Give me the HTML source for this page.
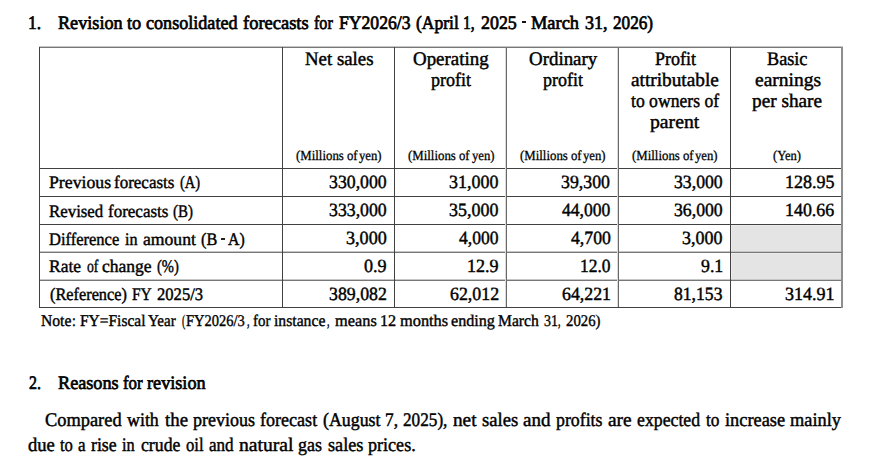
<!DOCTYPE html>
<html><head><meta charset='utf-8'><title>Revision to consolidated forecasts</title><style>
html,body{margin:0;padding:0;background:#fff;}
body{width:879px;height:468px;position:relative;overflow:hidden;font-family:"Liberation Serif",serif;color:#000;}
.t{position:absolute;white-space:pre;line-height:1;transform-origin:0 0;text-rendering:geometricPrecision;}
.ln{position:absolute;background:#484848;}
.g{position:absolute;background:#e4e4e4;}
.T{font-size:19.0px;-webkit-text-stroke:0.7px #000;}
.H{font-size:19.3px;-webkit-text-stroke:0.45px #000;}
.B{font-size:19.2px;-webkit-text-stroke:0.45px #000;}
.L{font-size:17.7px;-webkit-text-stroke:0.42px #000;}
.D{font-size:18.7px;-webkit-text-stroke:0.45px #000;}
.S{font-size:13.9px;-webkit-text-stroke:0.3px #000;}
.N{font-size:16.4px;-webkit-text-stroke:0.38px #000;}
</style></head>
<body>
<div class='ln' style='left:731px;top:225px;width:110px;height:26px;background:#ececec'></div>
<div class='ln' style='left:732px;top:226px;width:109px;height:25px;background:#e4e4e4'></div>
<div class='ln' style='left:731px;top:253px;width:110px;height:26px;background:#ececec'></div>
<div class='ln' style='left:732px;top:254px;width:109px;height:25px;background:#e4e4e4'></div>
<div class='ln' style='left:39px;top:168px;width:804px;height:1px;background:#414141'></div>
<div class='ln' style='left:39px;top:196px;width:804px;height:1px;background:#414141'></div>
<div class='ln' style='left:39px;top:224px;width:804px;height:1px;background:#414141'></div>
<div class='ln' style='left:39px;top:307px;width:804px;height:1px;background:#414141'></div>
<div class='ln' style='left:39px;top:46px;width:804px;height:1px;background:#c6c6c6'></div>
<div class='ln' style='left:39px;top:47px;width:804px;height:1px;background:#777777'></div>
<div class='ln' style='left:39px;top:251px;width:804px;height:1px;background:#c6c6c6'></div>
<div class='ln' style='left:39px;top:252px;width:804px;height:1px;background:#777777'></div>
<div class='ln' style='left:39px;top:279px;width:804px;height:1px;background:#c6c6c6'></div>
<div class='ln' style='left:39px;top:280px;width:804px;height:1px;background:#777777'></div>
<div class='ln' style='left:39px;top:47px;width:1px;height:261px;background:#414141'></div>
<div class='ln' style='left:282px;top:47px;width:1px;height:261px;background:#414141'></div>
<div class='ln' style='left:394px;top:47px;width:1px;height:261px;background:#414141'></div>
<div class='ln' style='left:730px;top:47px;width:1px;height:261px;background:#414141'></div>
<div class='ln' style='left:505px;top:48px;width:1px;height:259px;background:#dcdcdc'></div>
<div class='ln' style='left:506px;top:48px;width:1px;height:259px;background:#666666'></div>
<div class='ln' style='left:617px;top:48px;width:1px;height:259px;background:#dcdcdc'></div>
<div class='ln' style='left:618px;top:48px;width:1px;height:259px;background:#666666'></div>
<div class='ln' style='left:841px;top:47px;width:2px;height:261px;background:#8e8e8e'></div>
<div class='ln' style='left:521.7px;top:21px;width:4.4px;height:2px;background:#111'></div>
<div class='ln' style='left:221px;top:238px;width:3.6px;height:1.5px;background:#222'></div>
<span class='t T' style='left:28.33px;top:14px;transform:scaleX(0.9217)'>1.</span>
<span class='t T' style='left:57.84px;top:14px;transform:scaleX(0.9563)'>Revision</span>
<span class='t T' style='left:126.53px;top:14px;transform:scaleX(0.9638)'>to</span>
<span class='t T' style='left:145.61px;top:14px;transform:scaleX(0.9531)'>consolidated</span>
<span class='t T' style='left:242.53px;top:14px;transform:scaleX(0.9721)'>forecasts</span>
<span class='t T' style='left:313.79px;top:14px;transform:scaleX(0.8478)'>for</span>
<span class='t T' style='left:339.29px;top:14px;transform:scaleX(0.9277)'>FY2026/3</span>
<span class='t T' style='left:416.01px;top:14px;transform:scaleX(0.9211)'>(April</span>
<span class='t T' style='left:462.81px;top:14px;transform:scaleX(0.8205)'>1,</span>
<span class='t T' style='left:480.51px;top:14px;transform:scaleX(0.9426)'>2025</span>
<span class='t T' style='left:530.54px;top:14px;transform:scaleX(0.9678)'>March</span>
<span class='t T' style='left:585.00px;top:14px;transform:scaleX(0.9494)'>31,</span>
<span class='t T' style='left:612.51px;top:14px;transform:scaleX(0.9038)'>2026)</span>
<span class='t H' style='left:305.01px;top:50px;transform:scaleX(0.9766)'>Net sales</span>
<span class='t H' style='left:413.40px;top:50px;transform:scaleX(0.9807)'>Operating</span>
<span class='t H' style='left:431.04px;top:71px;transform:scaleX(0.9350)'>profit</span>
<span class='t H' style='left:528.70px;top:50px;transform:scaleX(0.9802)'>Ordinary</span>
<span class='t H' style='left:543.24px;top:71px;transform:scaleX(0.9317)'>profit</span>
<span class='t H' style='left:654.51px;top:50px;transform:scaleX(0.9337)'>Profit</span>
<span class='t H' style='left:631.30px;top:71px;transform:scaleX(1.0006)'>attributable</span>
<span class='t H' style='left:631.41px;top:92px;transform:scaleX(0.9136)'>to owners of</span>
<span class='t H' style='left:649.94px;top:113px;transform:scaleX(1.0213)'>parent</span>
<span class='t H' style='left:767.01px;top:50px;transform:scaleX(0.9442)'>Basic</span>
<span class='t H' style='left:754.70px;top:71px;transform:scaleX(1.0108)'>earnings</span>
<span class='t H' style='left:752.04px;top:92px;transform:scaleX(0.9986)'>per share</span>
<span class='t S' style='left:295.71px;top:150px;transform:scaleX(0.9242)'>(Millions</span>
<span class='t S' style='left:346.91px;top:150px;transform:scaleX(0.9165)'>of</span>
<span class='t S' style='left:359.27px;top:150px;transform:scaleX(0.9154)'>yen)</span>
<span class='t S' style='left:408.01px;top:150px;transform:scaleX(0.9242)'>(Millions</span>
<span class='t S' style='left:459.21px;top:150px;transform:scaleX(0.9165)'>of</span>
<span class='t S' style='left:471.57px;top:150px;transform:scaleX(0.9154)'>yen)</span>
<span class='t S' style='left:519.71px;top:150px;transform:scaleX(0.9242)'>(Millions</span>
<span class='t S' style='left:570.91px;top:150px;transform:scaleX(0.9165)'>of</span>
<span class='t S' style='left:583.27px;top:150px;transform:scaleX(0.9154)'>yen)</span>
<span class='t S' style='left:631.81px;top:150px;transform:scaleX(0.9242)'>(Millions</span>
<span class='t S' style='left:683.01px;top:150px;transform:scaleX(0.9165)'>of</span>
<span class='t S' style='left:695.37px;top:150px;transform:scaleX(0.9154)'>yen)</span>
<span class='t S' style='left:773.31px;top:150px;transform:scaleX(0.9046)'>(Yen)</span>
<span class='t L' style='left:49.01px;top:174px;transform:scaleX(1.0034)'>Previous</span>
<span class='t L' style='left:114.01px;top:174px;transform:scaleX(0.9608)'>forecasts</span>
<span class='t L' style='left:179.50px;top:174px;transform:scaleX(0.8207)'>(A)</span>
<span class='t L' style='left:49.01px;top:203px;transform:scaleX(0.9523)'>Revised</span>
<span class='t L' style='left:107.76px;top:203px;transform:scaleX(0.9608)'>forecasts</span>
<span class='t L' style='left:173.25px;top:203px;transform:scaleX(0.8440)'>(B)</span>
<span class='t L' style='left:49.02px;top:231px;transform:scaleX(0.9330)'>Difference</span>
<span class='t L' style='left:125.29px;top:231px;transform:scaleX(0.9109)'>in</span>
<span class='t L' style='left:142.76px;top:231px;transform:scaleX(0.9968)'>amount</span>
<span class='t L' style='left:201.00px;top:231px;transform:scaleX(0.9169)'>(B</span>
<span class='t L' style='left:227.87px;top:231px;transform:scaleX(0.8932)'>A)</span>
<span class='t L' style='left:49.01px;top:258px;transform:scaleX(0.9874)'>Rate</span>
<span class='t L' style='left:86.51px;top:258px;transform:scaleX(0.7756)'>of</span>
<span class='t L' style='left:102.00px;top:258px;transform:scaleX(0.9914)'>change</span>
<span class='t L' style='left:156.50px;top:258px;transform:scaleX(0.8244)'>(%)</span>
<span class='t L' style='left:49.60px;top:286px;transform:scaleX(0.9218)'>(Reference)</span>
<span class='t L' style='left:132.02px;top:286px;transform:scaleX(0.8746)'>FY</span>
<span class='t L' style='left:157.00px;top:286px;transform:scaleX(0.9376)'>2025/3</span>
<span class='t D' style='left:328.78px;top:174px;transform:scaleX(0.9502)'>330,000</span>
<span class='t D' style='left:328.78px;top:202px;transform:scaleX(0.9502)'>333,000</span>
<span class='t D' style='left:345.98px;top:230px;transform:scaleX(0.9700)'>3,000</span>
<span class='t D' style='left:364.30px;top:258px;transform:scaleX(0.9683)'>0.9</span>
<span class='t D' style='left:328.78px;top:286px;transform:scaleX(0.9526)'>389,082</span>
<span class='t D' style='left:449.28px;top:174px;transform:scaleX(0.9612)'>31,000</span>
<span class='t D' style='left:449.28px;top:202px;transform:scaleX(0.9612)'>35,000</span>
<span class='t D' style='left:459.27px;top:230px;transform:scaleX(0.9381)'>4,000</span>
<span class='t D' style='left:467.21px;top:258px;transform:scaleX(0.9665)'>12.9</span>
<span class='t D' style='left:449.90px;top:286px;transform:scaleX(0.9562)'>62,012</span>
<span class='t D' style='left:561.38px;top:174px;transform:scaleX(0.9524)'>39,300</span>
<span class='t D' style='left:562.07px;top:202px;transform:scaleX(0.9402)'>44,000</span>
<span class='t D' style='left:570.77px;top:230px;transform:scaleX(0.9476)'>4,700</span>
<span class='t D' style='left:579.62px;top:258px;transform:scaleX(0.9334)'>12.0</span>
<span class='t D' style='left:562.00px;top:286px;transform:scaleX(0.9529)'>64,221</span>
<span class='t D' style='left:673.58px;top:174px;transform:scaleX(0.9476)'>33,000</span>
<span class='t D' style='left:673.58px;top:202px;transform:scaleX(0.9476)'>36,000</span>
<span class='t D' style='left:682.28px;top:230px;transform:scaleX(0.9608)'>3,000</span>
<span class='t D' style='left:700.92px;top:258px;transform:scaleX(0.9508)'>9.1</span>
<span class='t D' style='left:674.20px;top:286px;transform:scaleX(0.9428)'>81,153</span>
<span class='t D' style='left:784.81px;top:174px;transform:scaleX(0.9650)'>128.95</span>
<span class='t D' style='left:784.80px;top:202px;transform:scaleX(0.9576)'>140.66</span>
<span class='t D' style='left:785.18px;top:286px;transform:scaleX(0.9651)'>314.91</span>
<span class='t N' style='left:41.42px;top:313px;transform:scaleX(0.9539)'>Note</span>
<span class='t N' style='left:71.99px;top:313px;transform:scaleX(0.8334)'>:</span>
<span class='t N' style='left:80.02px;top:313px;transform:scaleX(0.9436)'>FY=Fiscal</span>
<span class='t N' style='left:148.09px;top:313px;transform:scaleX(0.9178)'>Year</span>
<span class='t N' style='left:181.51px;top:313px;transform:scaleX(0.5958)'>(</span>
<span class='t N' style='left:186.02px;top:313px;transform:scaleX(0.8843)'>FY2026/3</span>
<span class='t N' style='left:247.32px;top:313px;transform:scaleX(0.6264)'>,</span>
<span class='t N' style='left:253.01px;top:313px;transform:scaleX(0.9114)'>for</span>
<span class='t N' style='left:274.28px;top:313px;transform:scaleX(0.9568)'>instance</span>
<span class='t N' style='left:327.32px;top:313px;transform:scaleX(0.6264)'>,</span>
<span class='t N' style='left:334.54px;top:313px;transform:scaleX(0.9967)'>means</span>
<span class='t N' style='left:380.27px;top:313px;transform:scaleX(0.9885)'>12</span>
<span class='t N' style='left:400.04px;top:313px;transform:scaleX(0.9974)'>months</span>
<span class='t N' style='left:451.26px;top:313px;transform:scaleX(0.9840)'>ending</span>
<span class='t N' style='left:498.27px;top:313px;transform:scaleX(0.9527)'>March</span>
<span class='t N' style='left:543.75px;top:313px;transform:scaleX(0.8501)'>31</span>
<span class='t N' style='left:558.32px;top:313px;transform:scaleX(0.6264)'>,</span>
<span class='t N' style='left:566.25px;top:313px;transform:scaleX(0.9016)'>2026)</span>
<span class='t T' style='left:28.76px;top:374px;transform:scaleX(0.8400)'>2.</span>
<span class='t T' style='left:57.54px;top:374px;transform:scaleX(0.9574)'>Reasons</span>
<span class='t T' style='left:122.53px;top:374px;transform:scaleX(0.8874)'>for</span>
<span class='t T' style='left:146.84px;top:374px;transform:scaleX(0.9571)'>revision</span>
<span class='t B' style='left:44.80px;top:411px;transform:scaleX(0.9584)'>Compared</span>
<span class='t B' style='left:126.94px;top:411px;transform:scaleX(0.9328)'>with</span>
<span class='t B' style='left:164.59px;top:411px;transform:scaleX(0.9825)'>the</span>
<span class='t B' style='left:193.29px;top:411px;transform:scaleX(0.9383)'>previous</span>
<span class='t B' style='left:260.01px;top:411px;transform:scaleX(0.9414)'>forecast</span>
<span class='t B' style='left:322.50px;top:411px;transform:scaleX(0.9289)'>(August</span>
<span class='t B' style='left:385.42px;top:411px;transform:scaleX(0.9020)'>7,</span>
<span class='t B' style='left:403.25px;top:411px;transform:scaleX(0.8961)'>2025),</span>
<span class='t B' style='left:453.03px;top:411px;transform:scaleX(1.0029)'>net</span>
<span class='t B' style='left:482.00px;top:411px;transform:scaleX(0.9692)'>sales</span>
<span class='t B' style='left:523.00px;top:411px;transform:scaleX(0.9901)'>and</span>
<span class='t B' style='left:556.29px;top:411px;transform:scaleX(0.9280)'>profits</span>
<span class='t B' style='left:608.00px;top:411px;transform:scaleX(1.0086)'>are</span>
<span class='t B' style='left:636.75px;top:411px;transform:scaleX(0.9260)'>expected</span>
<span class='t B' style='left:706.34px;top:411px;transform:scaleX(0.9036)'>to</span>
<span class='t B' style='left:724.54px;top:411px;transform:scaleX(0.9565)'>increase</span>
<span class='t B' style='left:790.04px;top:411px;transform:scaleX(0.9553)'>mainly</span>
<span class='t B' style='left:28.21px;top:436px;transform:scaleX(0.9687)'>due</span>
<span class='t B' style='left:60.09px;top:436px;transform:scaleX(0.8667)'>to</span>
<span class='t B' style='left:78.01px;top:436px;transform:scaleX(0.8870)'>a</span>
<span class='t B' style='left:90.79px;top:436px;transform:scaleX(0.9268)'>rise</span>
<span class='t B' style='left:122.04px;top:436px;transform:scaleX(0.8502)'>in</span>
<span class='t B' style='left:140.50px;top:436px;transform:scaleX(0.9242)'>crude</span>
<span class='t B' style='left:186.26px;top:436px;transform:scaleX(0.8691)'>oil</span>
<span class='t B' style='left:208.76px;top:436px;transform:scaleX(0.8891)'>and</span>
<span class='t B' style='left:239.28px;top:436px;transform:scaleX(1.0234)'>natural</span>
<span class='t B' style='left:298.12px;top:436px;transform:scaleX(0.9355)'>gas</span>
<span class='t B' style='left:328.00px;top:436px;transform:scaleX(0.9501)'>sales</span>
<span class='t B' style='left:368.04px;top:436px;transform:scaleX(0.9422)'>prices.</span>
</body></html>
